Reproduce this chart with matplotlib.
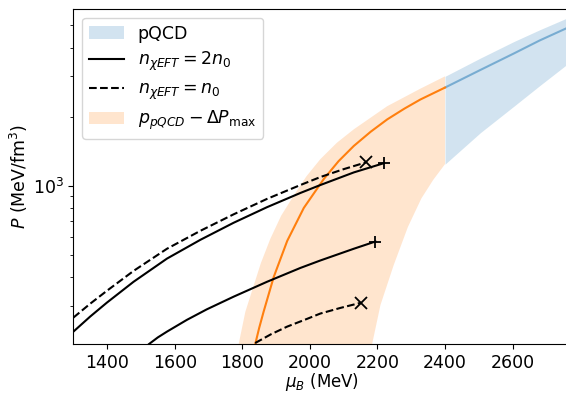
import matplotlib
matplotlib.use("Agg")
import matplotlib.pyplot as plt
import numpy as np
from matplotlib.patches import Patch
from matplotlib.lines import Line2D
from matplotlib.ticker import NullFormatter

plt.rcParams['font.size'] = 12.5

# pQCD band (mu_B in MeV, P in MeV/fm^3)
mu_pqcd = [2400, 2505, 2604, 2680, 2760]
p_pqcd_lo = [1242, 1705, 2223, 2730, 3373]
p_pqcd_mid = [2680, 3200, 3776, 4300, 4866]
p_pqcd_hi = [3000, 3606, 4256, 4786, 5378]

# p_pQCD - dP_max band: upper (left) edge and lower (right) edge
mu_dp_hi = [1789, 1809, 1834, 1855, 1883, 1915, 1952, 1990, 2031, 2080,
            2130, 2229, 2327, 2400]
p_dp_hi = [203, 282, 368, 460, 587, 740, 905, 1100, 1306, 1540,
           1762, 2223, 2650, 3000]
mu_dp_lo = [2184, 2209, 2248, 2290, 2330, 2365, 2400]
p_dp_lo = [203, 302, 450, 660, 880, 1060, 1242]
mu_dp_mid = [1838, 1850, 1863, 1893, 1933, 1982, 2041, 2085, 2130, 2180,
             2229, 2280, 2327, 2400]
p_dp_mid = [203, 240, 282, 400, 575, 800, 1069, 1280, 1491, 1720,
            1947, 2170, 2377, 2680]

# chiEFT-matched curves
mu_2n0_a = [1300, 1350, 1399, 1478, 1577, 1676, 1774, 1873, 1972, 2031,
            2130, 2219]
p_2n0_a = [231, 269, 309, 381, 481, 581, 689, 806, 930, 1007, 1143, 1254]
mu_n0_a = [1300, 1350, 1399, 1478, 1577, 1676, 1774, 1873, 1972, 2031,
           2100, 2165]
p_n0_a = [266, 306, 348, 425, 531, 636, 750, 876, 1007, 1091, 1181, 1263]
mu_2n0_b = [1524, 1550, 1577, 1636, 1695, 1774, 1873, 1972, 2031, 2130, 2194]
p_2n0_b = [204, 218, 231, 260, 289, 328, 381, 438, 472, 531, 571]
mu_n0_b = [1838, 1885, 1933, 1990, 2031, 2090, 2152]
p_n0_b = [206, 225, 243, 262, 277, 293, 309]

fig = plt.figure(figsize=(5.66, 3.94), dpi=100)
ax = fig.add_axes([73.4/566, 50/394, (570-73.4)/566, 335/394])

mu_poly = np.concatenate([mu_dp_hi, mu_dp_lo[::-1]])
p_poly = np.concatenate([p_dp_hi, p_dp_lo[::-1]])
ax.fill(mu_poly, p_poly, color='C1', alpha=0.2, lw=0)
ax.fill_between(mu_pqcd, p_pqcd_lo, p_pqcd_hi, color='C0', alpha=0.2, lw=0)
ax.plot(mu_pqcd, p_pqcd_mid, color='C0', alpha=0.5)
ax.plot(mu_dp_mid, p_dp_mid, color='C1')

ax.plot(mu_2n0_a, p_2n0_a, 'k-')
ax.plot(mu_2n0_b, p_2n0_b, 'k-')
ax.plot(mu_n0_a, p_n0_a, 'k--')
ax.plot(mu_n0_b, p_n0_b, 'k--')
for m, p in [(mu_2n0_a, p_2n0_a), (mu_2n0_b, p_2n0_b)]:
    ax.plot(m[-1], p[-1], 'k+', ms=9, mew=1.3)
for m, p in [(mu_n0_a, p_n0_a), (mu_n0_b, p_n0_b)]:
    ax.plot(m[-1], p[-1], 'kx', ms=8, mew=1.3)

ax.set_yscale('log')
ax.set_xlim(1300, 2770)
ax.set_ylim(204, 5900)
ax.yaxis.set_minor_formatter(NullFormatter())
ax.set_xlabel(r'$\mu_B$ (MeV)', labelpad=-0.5, fontsize=12)
ax.set_ylabel(r'$P$ (MeV/fm$^3$)', labelpad=2)

handles = [Patch(color='C0', alpha=0.2, lw=0),
           Line2D([], [], color='k'),
           Line2D([], [], color='k', ls='--'),
           Patch(color='C1', alpha=0.2, lw=0)]
labels = ['pQCD', r'$n_{\chi EFT} = 2n_0$', r'$n_{\chi EFT} = n_0$',
          r'$p_{pQCD} - \Delta P_{\max}$']
ax.legend(handles, labels, loc='upper left', labelspacing=0.4)

fig.savefig('out.png', dpi=100)
